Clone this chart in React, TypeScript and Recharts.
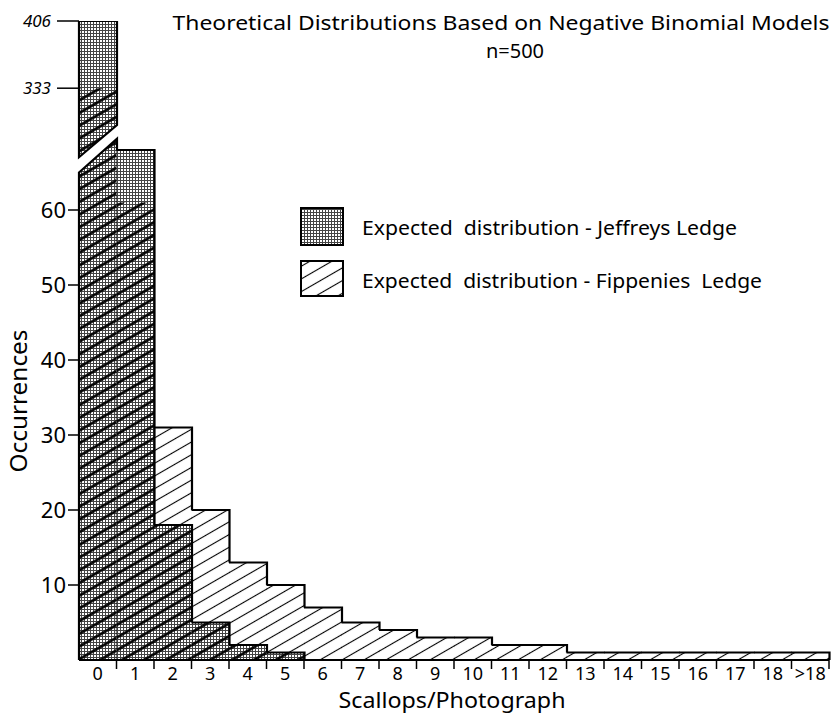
import React from "react";
import { BarChart, Bar, XAxis, YAxis, Legend } from "recharts";

const categories = ["0", "1", "2", "3", "4", "5", "6", "7", "8", "9", "10", "11", "12", "13", "14", "15", "16", "17", "18", ">18"];
const jeffreys = [406, 68, 18, 5, 2, 1, 0, 0, 0, 0, 0, 0, 0, 0, 0, 0, 0, 0, 0, 0];
const fippenies = [333, 61, 31, 20, 13, 10, 7, 5, 4, 3, 3, 2, 2, 1, 1, 1, 1, 1, 1, 1];
const lowerTicks = [10, 20, 30, 40, 50, 60];
const upperTicks = [333, 406];
const legendLabels = ["Expected  distribution - Jeffreys Ledge", "Expected  distribution - Fippenies  Ledge"];

const W = 837;
const H = 715;
const PLOT_L = 79;
const PLOT_R = 829;
const PLOT_B = 660;
const BAND = (PLOT_R - PLOT_L) / categories.length;
const FONT = "'Noto Sans', sans-serif";

// broken axis: lower part 0-70, upper part 255-406, slanted cuts between
const LOWER = [0, 70];
const UPPER = [255, 406];
const LOWER_CUT = [65, 69.5];
const UPPER_CUT = [258, 293];

const rows = categories.map((cat, i) => ({ cat, j: jeffreys[i], f: fippenies[i] }));
const upperRows = categories.map((cat, i) => ({
  cat,
  j: jeffreys[i] > UPPER[0] ? jeffreys[i] : null,
  f: fippenies[i] > UPPER[0] ? fippenies[i] : null,
}));

type Ctx = { lo: number; hi: number; upper: boolean; id: string };

function geom(p: any, ctx: Ctx, v: number) {
  let base: number, ppu: number;
  if (p.background && p.background.height) {
    base = p.background.y + p.background.height;
    ppu = p.background.height / (ctx.hi - ctx.lo);
  } else {
    base = p.y + p.height;
    ppu = p.height / (v - ctx.lo);
  }
  const yOf = (val: number) => base - (val - ctx.lo) * ppu;
  const top = (val: number): [number, number] =>
    !ctx.upper && val > ctx.hi ? [yOf(LOWER_CUT[0]), yOf(LOWER_CUT[1])] : [yOf(val), yOf(val)];
  const bot: [number, number] = ctx.upper ? [yOf(UPPER_CUT[0]), yOf(UPPER_CUT[1])] : [base, base];
  return { x: p.x, w: p.width, base, yOf, top, bot };
}

const quad = (x: number, w: number, t: [number, number], b: [number, number]) =>
  `M${x},${t[0]}L${x + w},${t[1]}L${x + w},${b[1]}L${x},${b[0]}Z`;

// outline of the step envelope: top edge plus the sides that drop to a lower neighbour
function stepLine(g: any, arr: number[], i: number) {
  const v = arr[i];
  const pv = i > 0 ? arr[i - 1] : 0;
  const nv = i < arr.length - 1 ? arr[i + 1] : 0;
  const t = g.yOf(v);
  let d = pv < v ? `M${g.x},${g.yOf(pv)}L${g.x},${t}` : `M${g.x},${t}`;
  d += `L${g.x + g.w},${t}`;
  if (nv < v) d += `L${g.x + g.w},${g.yOf(nv)}`;
  return d;
}

function JeffShape(p: any, ctx: Ctx) {
  const j = p.payload.j;
  const f = p.payload.f || 0;
  if (!j) return <g />;
  const g = geom(p, ctx, j);
  const m = Math.min(j, f);
  const body = quad(g.x, g.w, g.top(j), g.bot);
  const outline = p.index === 0 ? body : stepLine(g, jeffreys, p.index);
  return (
    <g>
      <path d={body} fill={`url(#${ctx.id}-stip)`} />
      {m > 0 && <path d={quad(g.x, g.w, g.top(m), g.bot)} fill={`url(#${ctx.id}-hatchB)`} />}
      <path d={outline} fill="none" stroke="#000" strokeWidth={2.2} />
    </g>
  );
}

function FipShape(p: any, ctx: Ctx) {
  const f = p.payload.f;
  const j = p.payload.j || 0;
  if (!f || f <= j) return <g />;
  const g = geom(p, ctx, f);
  return (
    <g>
      <path d={quad(g.x, g.w, g.top(f), g.top(j))} fill={`url(#${ctx.id}-hatch)`} />
      <path d={stepLine(g, fippenies, p.index)} fill="none" stroke="#000" strokeWidth={2.2} />
    </g>
  );
}

function Patterns({ id }: { id: string }) {
  return (
    <defs>
      <pattern id={`${id}-stip`} width="3" height="3" patternUnits="userSpaceOnUse">
        <rect width="3" height="3" fill="#fff" />
        <path d="M0,0.5H3M0.5,0V3" stroke="#444" strokeWidth={1} />
      </pattern>
      <pattern id={`${id}-hatch`} width="10" height="11" patternUnits="userSpaceOnUse" patternTransform="rotate(-30)">
        <line x1="0" y1="5.5" x2="10" y2="5.5" stroke="#000" strokeWidth={1.1} />
      </pattern>
      <pattern id={`${id}-hatchB`} width="10" height="11" patternUnits="userSpaceOnUse" patternTransform="rotate(-30)">
        <line x1="0" y1="5.5" x2="10" y2="5.5" stroke="#000" strokeWidth={2.6} />
      </pattern>
    </defs>
  );
}

function CatTick(p: any) {
  const { x, payload } = p;
  return (
    <g>
      <line x1={x + BAND / 2} y1={PLOT_B} x2={x + BAND / 2} y2={PLOT_B + 9} stroke="#000" strokeWidth={1.5} />
      <text x={x} y={PLOT_B + 20} textAnchor="middle" fontSize={18} fontFamily={FONT} fill="#000">
        {payload.value}
      </text>
    </g>
  );
}

function LegendBox() {
  return (
    <svg width={480} height={104}>
      <Patterns id="lg" />
      <rect x={6} y={8} width={42} height={37} fill="url(#lg-stip)" stroke="#000" strokeWidth={2} />
      <rect x={6} y={61} width={42} height={35} fill="url(#lg-hatch)" stroke="#000" strokeWidth={2} />
      <text x={67} y={35} fontSize={19} fontFamily={FONT} fill="#000" textLength={375} lengthAdjust="spacingAndGlyphs" xmlSpace="preserve">
        {legendLabels[0]}
      </text>
      <text x={67} y={88} fontSize={19} fontFamily={FONT} fill="#000" textLength={400} lengthAdjust="spacingAndGlyphs" xmlSpace="preserve">
        {legendLabels[1]}
      </text>
    </svg>
  );
}

const lowerCtx: Ctx = { lo: LOWER[0], hi: LOWER[1], upper: false, id: "lo" };
const upperCtx: Ctx = { lo: UPPER[0], hi: UPPER[1], upper: true, id: "up" };

export default function App() {
  return (
    <div style={{ position: "absolute", left: 0, top: 0, width: W, height: H, background: "#fff", fontFamily: FONT }}>
      <div style={{ position: "absolute", left: 0, top: 0 }}>
        <BarChart
          width={W}
          height={H}
          data={rows}
          barCategoryGap={0}
          barGap={0}
          margin={{ top: 135, right: W - PLOT_R, left: PLOT_L - 60, bottom: H - PLOT_B - 40 }}
        >
          <Patterns id="lo" />
          <XAxis
            xAxisId="a"
            dataKey="cat"
            height={40}
            interval={0}
            axisLine={{ stroke: "#000", strokeWidth: 2 }}
            tickLine={false}
            tick={<CatTick />}
          />
          <XAxis xAxisId="b" dataKey="cat" hide />
          <YAxis
            width={60}
            domain={LOWER}
            allowDataOverflow
            ticks={lowerTicks}
            interval={0}
            axisLine={false}
            tickSize={11}
            tickLine={{ stroke: "#000", strokeWidth: 1.5 }}
            tick={{ fill: "#000", fontSize: 22, fontFamily: FONT }}
          />
          <Legend
            layout="horizontal"
            verticalAlign="middle"
            align="center"
            wrapperStyle={{ left: 295, top: 200, width: 480, height: 104 }}
            content={() => <LegendBox />}
          />
          <Bar xAxisId="a" dataKey="j" isAnimationActive={false} shape={(p: any) => JeffShape(p, lowerCtx)} />
          <Bar xAxisId="b" dataKey="f" isAnimationActive={false} shape={(p: any) => FipShape(p, lowerCtx)} />
        </BarChart>
      </div>
      <div style={{ position: "absolute", left: 0, top: 0, pointerEvents: "none" }}>
        <BarChart
          width={W}
          height={H}
          data={upperRows}
          barCategoryGap={0}
          barGap={0}
          margin={{ top: 21, right: W - PLOT_R, left: PLOT_L - 60, bottom: H - 160 }}
        >
          <Patterns id="up" />
          <XAxis xAxisId="a" dataKey="cat" hide />
          <XAxis xAxisId="b" dataKey="cat" hide />
          <YAxis
            width={60}
            domain={UPPER}
            allowDataOverflow
            ticks={upperTicks}
            interval={0}
            axisLine={false}
            tickSize={22}
            tickMargin={6}
            tickLine={{ stroke: "#000", strokeWidth: 1.5 }}
            tick={{ fill: "#000", fontSize: 17, fontStyle: "italic", fontFamily: FONT }}
          />
          <Bar xAxisId="a" dataKey="j" isAnimationActive={false} shape={(p: any) => JeffShape(p, upperCtx)} />
          <Bar xAxisId="b" dataKey="f" isAnimationActive={false} shape={(p: any) => FipShape(p, upperCtx)} />
        </BarChart>
      </div>
      <svg width={W} height={H} style={{ position: "absolute", left: 0, top: 0, pointerEvents: "none" }}>
        <text x={501} y={30} textAnchor="middle" fontSize={20} fontFamily={FONT} fill="#000" textLength={657} lengthAdjust="spacingAndGlyphs">
          Theoretical Distributions Based on Negative Binomial Models
        </text>
        <text x={515} y={58} textAnchor="middle" fontSize={20} fontFamily={FONT} fill="#000">
          n=500
        </text>
        <text transform="translate(27,401) rotate(-90)" textAnchor="middle" fontSize={23} fontFamily={FONT} fill="#000" textLength={143} lengthAdjust="spacingAndGlyphs">
          Occurrences
        </text>
        <text x={452} y={708} textAnchor="middle" fontSize={21} fontFamily={FONT} fill="#000" textLength={227} lengthAdjust="spacingAndGlyphs">
          Scallops/Photograph
        </text>
      </svg>
    </div>
  );
}
